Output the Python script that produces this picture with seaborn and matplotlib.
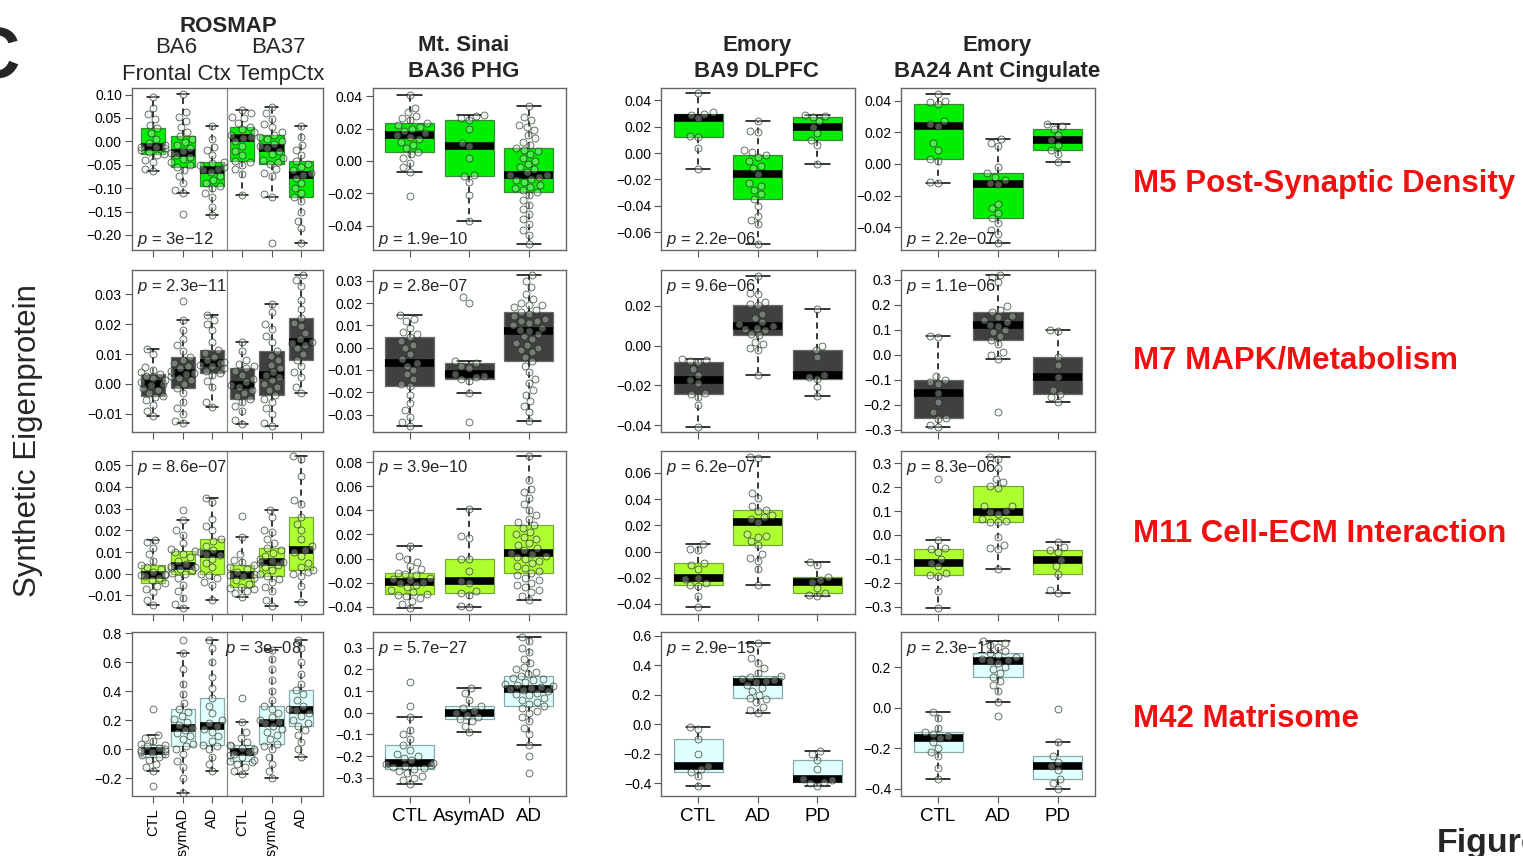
import warnings
import numpy as np
import pandas as pd
import seaborn as sns
import matplotlib.pyplot as plt

warnings.filterwarnings('ignore')

# ---------------- data ----------------
rosmap_groups = ['BA6 CTL', 'BA6 AsymAD', 'BA6 AD', 'BA37 CTL', 'BA37 AsymAD', 'BA37 AD']
rosmap_labels = ['CTL', 'AsymAD', 'AD', 'CTL', 'AsymAD', 'AD']
sinai_groups = ['CTL', 'AsymAD', 'AD']
emory_groups = ['CTL', 'AD', 'PD']

modules = ['M5 Post-Synaptic Density', 'M7 MAPK/Metabolism',
           'M11 Cell-ECM Interaction', 'M42 Matrisome']

p_rosmap = ['3e\u221212', '2.3e\u221211', '8.6e\u221207', '3e\u221208']
p_sinai = ['1.9e\u221210', '2.8e\u221207', '3.9e\u221210', '5.7e\u221227']
p_ba9 = ['2.2e\u221206', '9.6e\u221206', '6.2e\u221207', '2.9e\u221215']
p_ba24 = ['2.2e\u221207', '1.1e\u221206', '8.3e\u221206', '2.3e\u221211']

# M5 Post-Synaptic Density
m5_rosmap = [
    [-0.064, -0.058, -0.045, -0.040, -0.030, -0.026, -0.022, -0.018, -0.015, -0.013, -0.011, -0.008, -0.004, 0.005, 0.018, 0.029, 0.035, 0.048, 0.058, 0.072, 0.095],
    [-0.156, -0.111, -0.104, -0.090, -0.075, -0.062, -0.054, -0.050, -0.044, -0.038, -0.033, -0.029, -0.025, -0.020, -0.014, -0.008, -0.002, 0.004, 0.012, 0.020, 0.031, 0.044, 0.052, 0.062, 0.101],
    [-0.157, -0.140, -0.118, -0.110, -0.100, -0.096, -0.090, -0.082, -0.074, -0.066, -0.061, -0.058, -0.055, -0.050, -0.047, -0.044, -0.030, -0.018, -0.012, 0.005, 0.032],
    [-0.114, -0.070, -0.060, -0.050, -0.045, -0.042, -0.030, -0.020, -0.010, 0.000, 0.007, 0.010, 0.014, 0.020, 0.026, 0.031, 0.040, 0.050, 0.053, 0.060, 0.068],
    [-0.218, -0.119, -0.112, -0.074, -0.068, -0.060, -0.048, -0.044, -0.040, -0.035, -0.028, -0.020, -0.014, -0.010, -0.005, 0.000, 0.005, 0.010, 0.014, 0.020, 0.030, 0.038, 0.048, 0.060, 0.074],
    [-0.218, -0.185, -0.170, -0.150, -0.128, -0.119, -0.110, -0.100, -0.090, -0.078, -0.071, -0.068, -0.062, -0.055, -0.048, -0.042, -0.030, -0.018, -0.008, 0.010, 0.032],
]
m5_sinai = [
    [-0.0218, -0.0071, -0.0040, -0.0010, 0.0020, 0.0040, 0.0055, 0.0080, 0.0100, 0.0120, 0.0135, 0.0150, 0.0159, 0.0170, 0.0185, 0.0200, 0.0210, 0.0220, 0.0233, 0.0250, 0.0265, 0.0280, 0.0300, 0.0330, 0.0408],
    [-0.0369, -0.0210, -0.0130, -0.0094, -0.0090, 0.0020, 0.0090, 0.0110, 0.0195, 0.0251, 0.0265, 0.0280, 0.0284],
    [-0.0512, -0.046, -0.043, -0.039, -0.036, -0.033, -0.030, -0.027, -0.024, -0.021, -0.0194, -0.018, -0.017, -0.016, -0.015, -0.013, -0.012, -0.011, -0.010, -0.009, -0.0086,
     -0.007, -0.005, -0.004, -0.002, 0.000, 0.002, 0.004, 0.006, 0.007, 0.0082, 0.010, 0.012, 0.014, 0.016, 0.019, 0.021, 0.022, 0.025, 0.027, 0.034],
]
m5_ba9 = [
    [-0.012, 0.004, 0.0124, 0.013, 0.0263, 0.029, 0.0299, 0.031, 0.0458],
    [-0.0686, -0.054, -0.051, -0.048, -0.040, -0.0347, -0.031, -0.028, -0.025, -0.023, -0.016, -0.011, -0.010, -0.006, -0.003, -0.0013, 0.001, 0.002, 0.016, 0.017, 0.0246],
    [-0.0081, 0.006, 0.0099, 0.015, 0.020, 0.024, 0.0276, 0.028, 0.0286],
]
m5_ba24 = [
    [-0.0119, -0.0115, 0.002, 0.0031, 0.009, 0.013, 0.0238, 0.025, 0.027, 0.0375, 0.039, 0.040, 0.0444],
    [-0.0496, -0.044, -0.042, -0.037, -0.034, -0.031, -0.028, -0.025, -0.0125, -0.012, -0.010, -0.008, -0.006, -0.002, 0.011, 0.013, 0.0156],
    [0.001, 0.006, 0.009, 0.012, 0.015, 0.018, 0.0223, 0.024, 0.025],
]

# M7 MAPK/Metabolism
m7_rosmap = [
    [-0.0106, -0.0090, -0.0070, -0.0055, -0.0045, -0.0039, -0.0030, -0.0020, -0.0012, -0.0005, -0.0001, 0.0005, 0.0012, 0.0020, 0.0028, 0.0033, 0.0040, 0.0048, 0.0058, 0.0100, 0.0118],
    [-0.0131, -0.0125, -0.0100, -0.0080, -0.0060, -0.0030, -0.0012, 0.0000, 0.0012, 0.0020, 0.0028, 0.0033, 0.0038, 0.0045, 0.0052, 0.0060, 0.0070, 0.0080, 0.0089, 0.0110, 0.0130, 0.0150, 0.0180, 0.0215, 0.0277],
    [-0.0077, -0.0060, -0.0010, 0.0010, 0.0030, 0.0036, 0.0045, 0.0052, 0.0060, 0.0065, 0.0069, 0.0073, 0.0080, 0.0092, 0.0105, 0.0115, 0.0140, 0.0180, 0.0200, 0.0215, 0.0230],
    [-0.0134, -0.0120, -0.0090, -0.0075, -0.0060, -0.0051, -0.0040, -0.0030, -0.0020, -0.0010, -0.0003, 0.0005, 0.0015, 0.0030, 0.0045, 0.0053, 0.0060, 0.0068, 0.0080, 0.0110, 0.0142],
    [-0.0140, -0.0130, -0.0100, -0.0080, -0.0060, -0.0050, -0.0037, -0.0020, -0.0010, 0.0000, 0.0012, 0.0022, 0.0030, 0.0040, 0.0052, 0.0065, 0.0080, 0.0095, 0.0112, 0.0140, 0.0160, 0.0185, 0.0200, 0.0240, 0.0268],
    [-0.0030, -0.0010, 0.0025, 0.0040, 0.0060, 0.0082, 0.0100, 0.0120, 0.0130, 0.0138, 0.0142, 0.0150, 0.0170, 0.0195, 0.0205, 0.0222, 0.0250, 0.0280, 0.0330, 0.0350, 0.0365],
]
m7_sinai = [
    [-0.0352, -0.0335, -0.031, -0.028, -0.025, -0.021, -0.0171, -0.0165, -0.014, -0.012, -0.010, -0.008, -0.0069, -0.005, -0.003, 0.000, 0.001, 0.003, 0.0048, 0.006, 0.007, 0.009, 0.012, 0.013, 0.0145],
    [-0.0332, -0.0204, -0.0150, -0.0141, -0.0130, -0.0125, -0.0120, -0.0090, -0.0080, -0.0069, -0.0058, 0.0201, 0.0225],
    [-0.0328, -0.0289, -0.0262, -0.024, -0.021, -0.019, -0.016, -0.014, -0.011, -0.008, -0.006, -0.004, -0.002, -0.001, 0.000, 0.001, 0.002, 0.004, 0.005, 0.006, 0.0075,
     0.008, 0.009, 0.010, 0.011, 0.012, 0.012, 0.013, 0.014, 0.015, 0.016, 0.017, 0.018, 0.019, 0.019, 0.020, 0.022, 0.024, 0.027, 0.030, 0.0325],
]
m7_ba9 = [
    [-0.0408, -0.030, -0.026, -0.0244, -0.024, -0.019, -0.0175, -0.015, -0.012, -0.0082, -0.0080, -0.0075, -0.0070],
    [-0.0149, -0.0020, -0.0010, 0.0010, 0.0020, 0.0053, 0.0060, 0.0080, 0.0085, 0.0090, 0.0097, 0.0110, 0.0120, 0.0140, 0.0160, 0.0202, 0.0210, 0.0220, 0.0260, 0.0265, 0.0351],
    [-0.0252, -0.0210, -0.0167, -0.0160, -0.0147, -0.0060, -0.0022, 0.0000, 0.0184],
]
m7_ba24 = [
    [-0.287, -0.280, -0.255, -0.252, -0.230, -0.190, -0.151, -0.115, -0.110, -0.100, -0.085, 0.070, 0.077],
    [-0.227, -0.015, 0.000, 0.010, 0.045, 0.060, 0.075, 0.090, 0.100, 0.115, 0.121, 0.130, 0.140, 0.150, 0.155, 0.172, 0.180, 0.195, 0.290, 0.310, 0.320],
    [-0.187, -0.170, -0.157, -0.140, -0.088, -0.040, -0.008, 0.095, 0.101],
]

# M11 Cell-ECM Interaction
m11_rosmap = [
    [-0.0144, -0.0120, -0.0085, -0.0070, -0.0055, -0.0044, -0.0030, -0.0020, -0.0012, -0.0008, -0.0006, 0.0000, 0.0010, 0.0022, 0.0032, 0.0040, 0.0060, 0.0090, 0.0120, 0.0145, 0.0157],
    [-0.0156, -0.0140, -0.0110, -0.0080, -0.0050, -0.0020, -0.0003, 0.0005, 0.0015, 0.0022, 0.0028, 0.0030, 0.0034, 0.0045, 0.0060, 0.0075, 0.0090, 0.0098, 0.0105, 0.0115, 0.0140, 0.0180, 0.0200, 0.0246, 0.0292],
    [-0.0122, -0.0050, -0.0040, -0.0020, -0.0005, 0.0000, 0.0030, 0.0050, 0.0070, 0.0085, 0.0093, 0.0100, 0.0110, 0.0130, 0.0150, 0.0160, 0.0200, 0.0220, 0.0250, 0.0330, 0.0350],
    [-0.0107, -0.0090, -0.0080, -0.0070, -0.0065, -0.0060, -0.0045, -0.0030, -0.0020, -0.0012, -0.0008, 0.0000, 0.0010, 0.0020, 0.0030, 0.0040, 0.0055, 0.0065, 0.0090, 0.0168, 0.0267],
    [-0.0148, -0.0120, -0.0080, -0.0060, -0.0040, -0.0025, -0.0011, 0.0000, 0.0015, 0.0030, 0.0040, 0.0048, 0.0053, 0.0060, 0.0070, 0.0080, 0.0095, 0.0110, 0.0119, 0.0140, 0.0160, 0.0190, 0.0200, 0.0260, 0.0295],
    [-0.0128, -0.0055, -0.0010, 0.0000, 0.0010, 0.0017, 0.0030, 0.0050, 0.0080, 0.0100, 0.0111, 0.0130, 0.0160, 0.0200, 0.0230, 0.0260, 0.0320, 0.0340, 0.0450, 0.0530, 0.0542],
]
m11_sinai = [
    [-0.0411, -0.0380, -0.0350, -0.0330, -0.0310, -0.0300, -0.0294, -0.0280, -0.0260, -0.0240, -0.0220, -0.0205, -0.0194, -0.0180, -0.0170, -0.0160, -0.0140, -0.0125, -0.0117, -0.0090, -0.0060, -0.0030, 0.0000, 0.0020, 0.0108],
    [-0.0403, -0.0390, -0.0300, -0.0283, -0.0270, -0.0200, -0.0186, -0.0100, 0.0000, 0.0000, 0.0170, 0.0190, 0.0411],
    [-0.0342, -0.031, -0.028, -0.026, -0.024, -0.022, -0.020, -0.018, -0.016, -0.014, -0.0122, -0.010, -0.008, -0.006, -0.004, -0.002, 0.000, 0.001, 0.002, 0.004, 0.005,
     0.007, 0.009, 0.011, 0.013, 0.016, 0.018, 0.020, 0.022, 0.025, 0.0278, 0.030, 0.033, 0.036, 0.040, 0.045, 0.050, 0.055, 0.058, 0.065, 0.0847],
]
m11_ba9 = [
    [-0.0424, -0.034, -0.026, -0.0258, -0.024, -0.021, -0.0199, -0.013, -0.010, -0.009, 0.001, 0.002, 0.0057],
    [-0.0258, -0.013, -0.007, -0.005, -0.002, 0.0047, 0.008, 0.011, 0.012, 0.013, 0.0222, 0.025, 0.026, 0.028, 0.031, 0.032, 0.035, 0.041, 0.045, 0.071, 0.072],
    [-0.0341, -0.033, -0.032, -0.028, -0.0235, -0.022, -0.0196, -0.010, -0.0078],
]
m11_ba24 = [
    [-0.307, -0.235, -0.170, -0.166, -0.160, -0.130, -0.118, -0.100, -0.070, -0.058, -0.055, -0.021, 0.234],
    [-0.143, -0.060, -0.055, -0.040, -0.010, 0.053, 0.055, 0.060, 0.065, 0.090, 0.098, 0.100, 0.120, 0.120, 0.195, 0.205, 0.220, 0.235, 0.280, 0.320, 0.327],
    [-0.242, -0.230, -0.162, -0.130, -0.104, -0.070, -0.062, -0.050, -0.030],
]

# M42 Matrisome
m42_rosmap = [
    [-0.250, -0.150, -0.120, -0.100, -0.070, -0.050, -0.040, -0.030, -0.020, -0.015, -0.010, -0.005, 0.000, 0.010, 0.020, 0.030, 0.040, 0.060, 0.080, 0.100, 0.280],
    [-0.300, -0.200, -0.120, -0.080, -0.030, 0.000, 0.020, 0.040, 0.070, 0.090, 0.110, 0.130, 0.150, 0.170, 0.190, 0.210, 0.230, 0.260, 0.280, 0.320, 0.380, 0.450, 0.550, 0.660, 0.750],
    [-0.150, -0.100, -0.050, 0.000, 0.020, 0.030, 0.060, 0.090, 0.120, 0.140, 0.160, 0.180, 0.200, 0.250, 0.300, 0.350, 0.420, 0.500, 0.600, 0.700, 0.750],
    [-0.170, -0.150, -0.120, -0.100, -0.090, -0.080, -0.070, -0.050, -0.040, -0.030, -0.020, -0.010, 0.000, 0.010, 0.020, 0.030, 0.050, 0.080, 0.120, 0.190, 0.350],
    [-0.200, -0.150, -0.100, -0.050, 0.000, 0.020, 0.040, 0.070, 0.100, 0.120, 0.140, 0.160, 0.180, 0.190, 0.200, 0.220, 0.250, 0.280, 0.300, 0.340, 0.400, 0.480, 0.550, 0.620, 0.680],
    [-0.050, 0.000, 0.050, 0.100, 0.130, 0.160, 0.180, 0.200, 0.230, 0.250, 0.270, 0.280, 0.300, 0.340, 0.380, 0.410, 0.450, 0.520, 0.600, 0.700, 0.750],
]
m42_sinai = [
    [-0.330, -0.310, -0.300, -0.290, -0.280, -0.270, -0.260, -0.255, -0.250, -0.245, -0.240, -0.235, -0.230, -0.220, -0.210, -0.200, -0.190, -0.170, -0.150, -0.120, -0.100, -0.080, -0.020, 0.030, 0.140],
    [-0.090, -0.060, -0.040, -0.030, -0.020, -0.010, 0.000, 0.010, 0.020, 0.030, 0.060, 0.090, 0.115],
    [-0.28, -0.20, -0.15, -0.10, -0.07, -0.04, -0.02, 0.00, 0.01, 0.02, 0.03, 0.04, 0.05, 0.06, 0.07, 0.08, 0.085, 0.09, 0.10, 0.105, 0.11,
     0.115, 0.12, 0.125, 0.13, 0.135, 0.14, 0.15, 0.155, 0.16, 0.17, 0.18, 0.19, 0.20, 0.21, 0.23, 0.25, 0.28, 0.30, 0.33, 0.35],
]
m42_ba9 = [
    [-0.42, -0.35, -0.32, -0.30, -0.28, -0.20, -0.10, -0.03, -0.02],
    [0.080, 0.100, 0.120, 0.150, 0.170, 0.180, 0.200, 0.230, 0.250, 0.270, 0.290, 0.295, 0.300, 0.310, 0.320, 0.330, 0.350, 0.380, 0.420, 0.450, 0.550],
    [-0.42, -0.40, -0.39, -0.38, -0.37, -0.30, -0.24, -0.20, -0.18],
]
m42_ba24 = [
    [-0.35, -0.30, -0.24, -0.22, -0.20, -0.17, -0.15, -0.14, -0.13, -0.12, -0.10, -0.05, -0.02],
    [-0.04, 0.03, 0.08, 0.11, 0.13, 0.15, 0.17, 0.19, 0.20, 0.22, 0.23, 0.235, 0.24, 0.25, 0.26, 0.27, 0.28, 0.30, 0.31, 0.32, 0.33],
    [-0.40, -0.37, -0.35, -0.31, -0.29, -0.27, -0.24, -0.17, -0.005],
]

# ---------------- layout ----------------
W, H = 1523, 856
col_x = [(131.7, 322.5), (372.5, 566.0), (661.0, 854.5), (901.0, 1095.0)]
row_y = [(88.0, 249.5), (270.0, 432.0), (451.0, 613.5), (632.0, 795.5)]

# (ylim, ticks, decimals) per panel
yaxes = [
    [((-0.231, 0.114), np.arange(-0.20, 0.101, 0.05), 2), ((-0.0548, 0.0451), np.arange(-0.04, 0.041, 0.02), 2),
     ((-0.0731, 0.0493), np.arange(-0.06, 0.041, 0.02), 2), ((-0.054, 0.0479), np.arange(-0.04, 0.041, 0.02), 2)],
    [((-0.0161, 0.0382), np.arange(-0.01, 0.031, 0.01), 2), ((-0.0378, 0.0348), np.arange(-0.03, 0.031, 0.01), 2),
     ((-0.0435, 0.038), np.arange(-0.04, 0.021, 0.02), 2), ((-0.308, 0.34), np.arange(-0.3, 0.31, 0.1), 1)],
    [((-0.0183, 0.0565), np.arange(-0.01, 0.051, 0.01), 2), ((-0.0456, 0.0892), np.arange(-0.04, 0.081, 0.02), 2),
     ((-0.0473, 0.0767), np.arange(-0.04, 0.061, 0.02), 2), ((-0.329, 0.352), np.arange(-0.3, 0.31, 0.1), 1)],
    [((-0.317, 0.807), np.arange(-0.2, 0.81, 0.2), 1), ((-0.382, 0.373), np.arange(-0.3, 0.31, 0.1), 1),
     ((-0.482, 0.627), np.arange(-0.4, 0.61, 0.2), 1), ((-0.434, 0.374), np.arange(-0.4, 0.21, 0.2), 1)],
]

fills = ['#00ee00', '#404040', '#adff2f', '#e0ffff']
edges = ['#3a8a3a', '#6a6a6a', '#78a83a', '#88aaaa']

sns.set_style('ticks')
plt.rcParams['font.family'] = ['Liberation Sans', 'DejaVu Sans']
plt.rcParams['mathtext.fontset'] = 'custom'
plt.rcParams['mathtext.it'] = 'Liberation Sans:italic'
plt.rcParams['mathtext.rm'] = 'Liberation Sans'

fig = plt.figure(figsize=(W / 100, H / 100), dpi=100)

panel_data = [
    [m5_rosmap, m5_sinai, m5_ba9, m5_ba24],
    [m7_rosmap, m7_sinai, m7_ba9, m7_ba24],
    [m11_rosmap, m11_sinai, m11_ba9, m11_ba24],
    [m42_rosmap, m42_sinai, m42_ba9, m42_ba24],
]
panel_groups = [rosmap_groups, sinai_groups, emory_groups, emory_groups]
panel_labels = [rosmap_labels, sinai_groups, emory_groups, emory_groups]
panel_p = [p_rosmap, p_sinai, p_ba9, p_ba24]


def fmt(v, d):
    s = f'{v:.{d}f}'
    if s.startswith('-'):
        if float(s) == 0:
            s = s[1:]
        else:
            s = '\u2212' + s[1:]
    return s


for r in range(4):
    for c in range(4):
        x0, x1 = col_x[c]
        y0, y1 = row_y[r]
        ax = fig.add_axes([x0 / W, 1 - y1 / H, (x1 - x0) / W, (y1 - y0) / H])
        groups = panel_groups[c]
        vals = panel_data[r][c]
        df = pd.DataFrame({
            'group': np.repeat(groups, [len(v) for v in vals]),
            'value': np.concatenate(vals),
        })
        sns.boxplot(data=df, x='group', y='value', order=groups, ax=ax,
                    color=fills[r], saturation=1, width=0.82, linewidth=0.9,
                    linecolor='black', showfliers=False, whis=1.5,
                    boxprops=dict(edgecolor=edges[r], zorder=2),
                    medianprops=dict(color='black', linewidth=5.5, solid_capstyle='butt', zorder=2.5),
                    whiskerprops=dict(color='black', linestyle=(0, (4, 3)), linewidth=1.1),
                    capprops=dict(color='black', linewidth=1.1))
        n_before = len(ax.collections)
        sns.swarmplot(data=df, x='group', y='value', order=groups, ax=ax,
                      size=5.0, color='#dfe8df', edgecolor='#1a221a',
                      linewidth=0.6, zorder=3)
        # pale, see-through fill with a darker rim, as in the original beeswarm
        for coll in ax.collections[n_before:]:
            coll.set_facecolor((0.88, 0.93, 0.88, 0.35))
            coll.set_edgecolor((0.12, 0.16, 0.12, 0.75))

        n = len(groups)
        ax.set_xlim(-0.72, 5.72) if n == 6 else ax.set_xlim(-0.62, 2.62)
        ylim, yt, dec = yaxes[r][c]
        ax.set_ylim(*ylim)
        ax.set_yticks(yt)
        ax.set_yticklabels([fmt(v, dec) for v in yt])
        ax.set_xticks(range(n))
        if r == 3:
            if n == 6:
                ax.set_xticklabels(panel_labels[c], rotation=90, fontsize=10.5)
            else:
                ax.set_xticklabels(panel_labels[c], fontsize=13.5)
        else:
            ax.set_xticklabels([''] * n)
        ax.set_xlabel('')
        ax.set_ylabel('')
        ax.tick_params(axis='both', direction='out', length=5, width=0.8,
                       color='#555555', labelcolor='black', pad=2,
                       left=True, bottom=True, top=False, right=False)
        ax.tick_params(axis='y', labelsize=10)
        ax.tick_params(axis='x', pad=4)
        for sp in ax.spines.values():
            sp.set_visible(True)
            sp.set_color('#666666')
            sp.set_linewidth(1.0)
        if n == 6:
            ax.axvline(2.5, color='#888888', lw=0.9, zorder=1)

        ptxt = r'$p$ = ' + panel_p[c][r]
        if r == 0:
            ax.annotate(ptxt, xy=(0, 0), xycoords='axes fraction', xytext=(5, 6),
                        textcoords='offset pixels', fontsize=12, va='baseline', ha='left')
        elif r == 3 and c == 0:
            ax.annotate(ptxt, xy=(0.49, 1), xycoords='axes fraction', xytext=(0, -7),
                        textcoords='offset pixels', fontsize=12, va='top', ha='left')
        else:
            ax.annotate(ptxt, xy=(0, 1), xycoords='axes fraction', xytext=(5, -7),
                        textcoords='offset pixels', fontsize=12, va='top', ha='left')


def ftext(x, y, s, **kw):
    fig.text(x / W, 1 - y / H, s, **kw)


# column headers
ftext(228, 32, 'ROSMAP', fontsize=16, fontweight='bold', ha='center', va='baseline')
ftext(176, 53, 'BA6', fontsize=16, ha='center', va='baseline')
ftext(278, 53, 'BA37', fontsize=16, ha='center', va='baseline')
ftext(223, 80, 'Frontal Ctx TempCtx', fontsize=16, ha='center', va='baseline')
ftext(464, 51, 'Mt. Sinai', fontsize=16, fontweight='bold', ha='center', va='baseline')
ftext(464, 77, 'BA36 PHG', fontsize=16, fontweight='bold', ha='center', va='baseline')
ftext(757, 51, 'Emory', fontsize=16, fontweight='bold', ha='center', va='baseline')
ftext(756, 77, 'BA9 DLPFC', fontsize=16, fontweight='bold', ha='center', va='baseline')
ftext(997, 51, 'Emory', fontsize=16, fontweight='bold', ha='center', va='baseline')
ftext(997, 77, 'BA24 Ant Cingulate', fontsize=16, fontweight='bold', ha='center', va='baseline')

# module labels
for name, yb in zip(modules, [192, 368, 542, 727]):
    ftext(1133, yb, name, fontsize=22.5, fontweight='bold', color='#f01010', ha='left', va='baseline')

ftext(28, 441, 'Synthetic Eigenprotein', fontsize=22.5, rotation=90, ha='center', va='center')
ftext(20, 77, 'C', fontsize=52, fontweight='bold', ha='right', va='baseline')
ftext(1437, 852, 'Figure', fontsize=24.5, fontweight='bold', ha='left', va='baseline')

fig.savefig('out.png', dpi=100)
